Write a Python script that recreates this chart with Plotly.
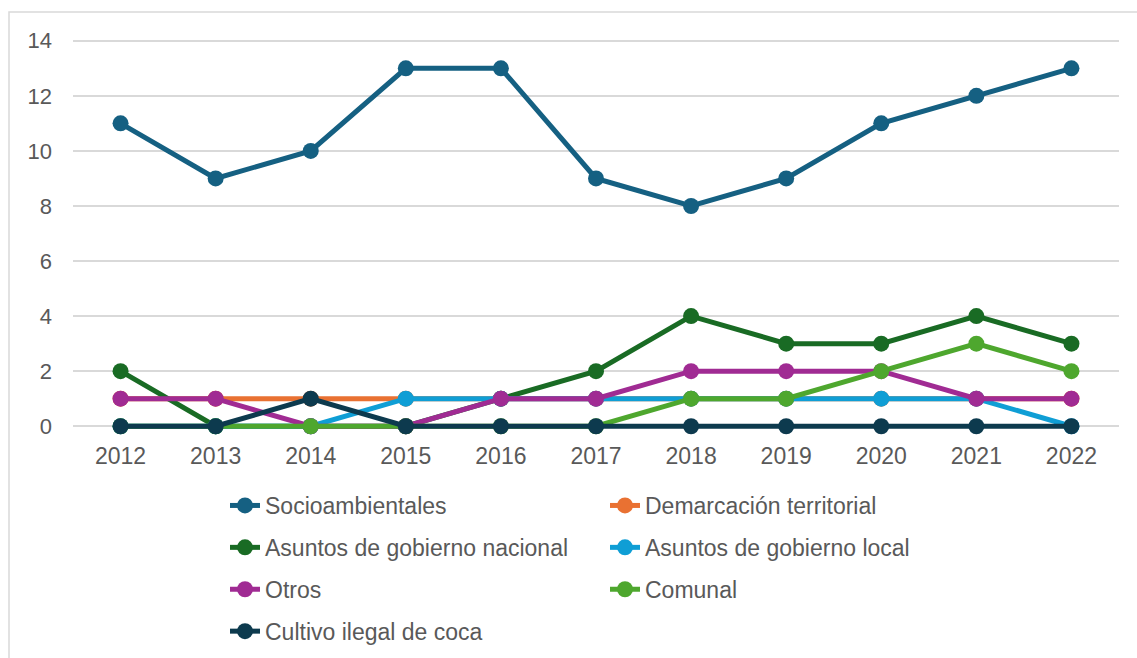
import plotly.graph_objects as go

years = ["2012", "2013", "2014", "2015", "2016", "2017", "2018", "2019", "2020", "2021", "2022"]

socioambientales = [11, 9, 10, 13, 13, 9, 8, 9, 11, 12, 13]
demarcacion = [1, 1, 1, 1, 1, 1, 1, 1, 1, 1, 1]
gob_nacional = [2, 0, 0, 0, 1, 2, 4, 3, 3, 4, 3]
gob_local = [0, 0, 0, 1, 1, 1, 1, 1, 1, 1, 0]
otros = [1, 1, 0, 0, 1, 1, 2, 2, 2, 1, 1]
comunal = [0, 0, 0, 0, 0, 0, 1, 1, 2, 3, 2]
coca = [0, 0, 1, 0, 0, 0, 0, 0, 0, 0, 0]

series = [
    ("Socioambientales", socioambientales, "#156082", "legend"),
    ("Demarcación territorial", demarcacion, "#E97132", "legend2"),
    ("Asuntos de gobierno nacional", gob_nacional, "#196B24", "legend"),
    ("Asuntos de gobierno local", gob_local, "#0F9ED5", "legend2"),
    ("Otros", otros, "#A02B93", "legend"),
    ("Comunal", comunal, "#4EA72E", "legend2"),
    ("Cultivo ilegal de coca", coca, "#0D3A4E", "legend"),
]

fig = go.Figure()
for i, (name, vals, col, lg) in enumerate(series):
    fig.add_trace(go.Scatter(
        x=years, y=vals, name=name, mode="lines+markers",
        line=dict(color=col, width=5),
        marker=dict(color=col, size=16),
        legend=lg, legendgroup=f"g{i}", cliponaxis=False,
    ))

font_col = "#595959"
W, H = 1137, 658
ml, mr, mt, mb = 73, 18, 27, 218
pw = W - ml - mr
ph = H - mt - mb

def px_x(p):
    return (p - ml) / pw

def px_y(p):
    return (H - mb - p) / ph

legend_common = dict(
    orientation="v", xanchor="left", yanchor="top",
    xref="container", yref="container",
    font=dict(family="Liberation Sans, Arial", size=23, color=font_col),
    bgcolor="rgba(0,0,0,0)", tracegroupgap=9, itemwidth=30,
)

fig.update_layout(
    width=W, height=H,
    margin=dict(l=ml, r=mr, t=mt, b=mb, autoexpand=False),
    paper_bgcolor="white", plot_bgcolor="white",
    font=dict(family="Liberation Sans, Arial", size=23, color=font_col),
    xaxis=dict(
        type="category", range=[-0.5, 10.5], showgrid=False, zeroline=False,
        showline=False, ticks="", tickfont=dict(size=23, color=font_col),
    ),
    yaxis=dict(
        range=[-0.5, 14.5], tickvals=[0, 2, 4, 6, 8, 10, 12, 14],
        showgrid=True, gridcolor="#D9D9D9", gridwidth=1.5, zeroline=False,
        showline=False, ticks="", ticklabelstandoff=20,
        tickfont=dict(size=22, color=font_col),
    ),
    legend=dict(x=225 / W, y=1 - 484 / H, **legend_common),
    legend2=dict(x=605 / W, y=1 - 484 / H, **legend_common),
    shapes=[dict(
        type="rect", xref="paper", yref="paper",
        x0=px_x(9), x1=px_x(1200), y0=px_y(700), y1=px_y(12),
        line=dict(color="#D9D9D9", width=1.5), fillcolor="rgba(0,0,0,0)", layer="below",
    )],
)

fig.write_html("out.html")
